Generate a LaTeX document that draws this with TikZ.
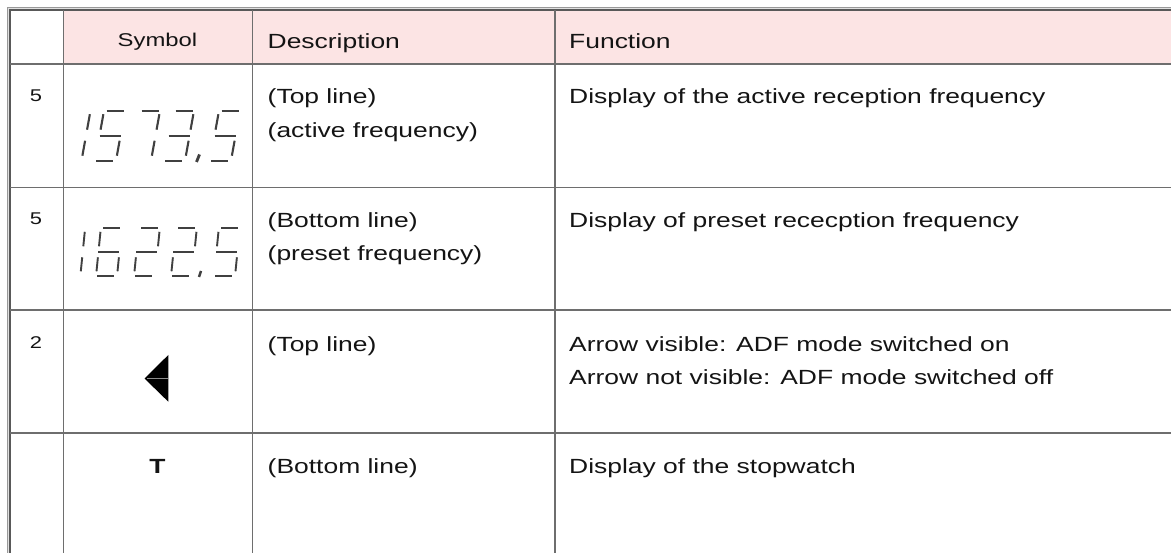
\documentclass[tikz,border=0pt]{standalone}
\usepackage{fontspec}
\setmainfont{Liberation Sans}[FakeStretch=1.29]
\definecolor{hdr}{HTML}{FCE4E4}
\definecolor{gridc}{HTML}{6E6E6E}
\definecolor{segc}{HTML}{404040}
% seven-segment helpers
\newcommand\sgl[4]{\draw[seg] ({\dx+(#1)+\sS*(#2)},{\dy-(#2)}) -- ({\dx+(#3)+\sS*(#4)},{\dy-(#4)});}
\newcommand\sgA{\sgl{2.5}{\sH}{\sW-1.5}{\sH}}
\newcommand\sgB{\sgl{\sW}{\sH/2+6}{\sW}{\sH-3.5}}
\newcommand\sgC{\sgl{\sW}{5}{\sW}{\sH/2-5}}
\newcommand\sgD{\sgl{1}{0}{\sW-3.5}{0}}
\newcommand\sgE{\sgl{0}{5}{0}{\sH/2-5}}
\newcommand\sgF{\sgl{0}{\sH/2+6}{0}{\sH-3.5}}
\newcommand\sgG{\sgl{0}{\sH/2}{\sW}{\sH/2}}
\newcommand\dOne{\sgB\sgC}
\newcommand\dTwo{\sgA\sgB\sgG\sgE\sgD}
\newcommand\dThree{\sgA\sgB\sgG\sgC\sgD}
\newcommand\dFive{\sgA\sgF\sgG\sgC\sgD}
\newcommand\dSix{\sgA\sgF\sgG\sgE\sgC\sgD}
\newcommand\dSeven{\sgA\sgB\sgC}
\newcommand\sevdigit[3]{\def\dx{#1}\def\dy{#2}#3}
\begin{document}
\begin{tikzpicture}[x=1pt,y=-1pt,
  gridline/.style={draw=gridc,line width=1.2pt},
  txt/.style={anchor=base west,inner sep=0pt,font=\fontsize{20.5}{24}\selectfont,text=black!92},
  num/.style={anchor=base,inner sep=0pt,font=\fontsize{17}{20}\selectfont,text=black!92},
  hsym/.style={anchor=base,inner sep=0pt,font=\fontsize{18.5}{22}\selectfont,text=black!92},
  seg/.style={draw=segc,line width=2.1pt},
]
\useasboundingbox (0,0) rectangle (1171,553);
\fill[white] (0,0) rectangle (1171,553);
% header band
\fill[hdr] (63.3,10) rectangle (1171,64);
% outer double frame
\draw[line width=1pt,draw=black!40] (7.5,553) -- (7.5,7.5) -- (1171,7.5);
\draw[line width=1pt,draw=black!12] (8.6,553) -- (8.6,8.6) -- (1171,8.6);
\draw[line width=1.2pt,draw=black!65] (10,553) -- (10,10) -- (1171,10);
% grid
\draw[gridline] (10,64) -- (1171,64);
\draw[gridline] (10,187.5) -- (1171,187.5);
\draw[gridline] (10,310) -- (1171,310);
\draw[gridline] (10,433) -- (1171,433);
\draw[gridline] (63.3,10) -- (63.3,553);
\draw[gridline] (252.3,10) -- (252.3,553);
\draw[gridline] (555,10) -- (555,553);
% header
\node[hsym] (hS) at (157.5,47) {Symbol};
\node[txt] (hD) at (267.5,48.5) {Description};
\node[txt] (hF) at (569,48.5) {Function};
% row 1
\node[num] (n1) at (36,102) {5};
\def\sS{0.18}\def\sW{21}\def\sH{50}
\sevdigit{60.5}{160.7}{\dOne}
\sevdigit{95}{160.7}{\dFive}
\sevdigit{130}{160.7}{\dSeven}
\sevdigit{164}{160.7}{\dThree}
\sevdigit{210}{160.7}{\dFive}
\draw[seg,line width=2.8pt] (199.5,154.5) -- (196.5,162);
\node[txt] (d1a) at (267.5,104) {(Top line)};
\node[txt] (d1b) at (267.5,137.5) {(active frequency)};
\node[txt] (f1) at (569,104) {Display of the active reception frequency};
% row 2
\node[num] (n2) at (36,225) {5};
\def\sS{0.1}\def\sW{21}\def\sH{48}
\begin{scope}[seg/.append style={line width=1.9pt}]
\sevdigit{59.3}{276.3}{\dOne}
\sevdigit{96}{276.3}{\dSix}
\sevdigit{134}{276.3}{\dTwo}
\sevdigit{171}{276.3}{\dTwo}
\sevdigit{214}{276.3}{\dFive}
\draw[seg,line width=2.4pt] (201,271) -- (199,277);
\end{scope}
\node[txt] (d2a) at (267.5,227.5) {(Bottom line)};
\node[txt] (d2b) at (267.5,261) {(preset frequency)};
\node[txt] (f2) at (569,227.5) {Display of preset rececption frequency};
% row 3
\node[num] (n3) at (36,348.5) {2};
\fill[black] (144.5,378.5) -- (168.3,355) -- (168.3,401.7) -- cycle;
\draw[draw=black!45,line width=0.7pt] (147,378.5) -- (168,378.5);
\node[txt] (d3) at (267.5,351.5) {(Top line)};
\node[txt] (f3a) at (569,351.5) {Arrow visible: ADF mode switched on};
\node[txt] (f3b) at (569,385) {Arrow not visible: ADF mode switched off};
% row 4
\node[anchor=base,inner sep=0pt,font=\fontsize{20.5}{24}\selectfont\bfseries,text=black!92] (t4) at (157.5,473) {T};
\node[txt] (d4) at (267.5,473) {(Bottom line)};
\node[txt] (f4) at (569,473) {Display of the stopwatch};
\end{tikzpicture}
\end{document}
